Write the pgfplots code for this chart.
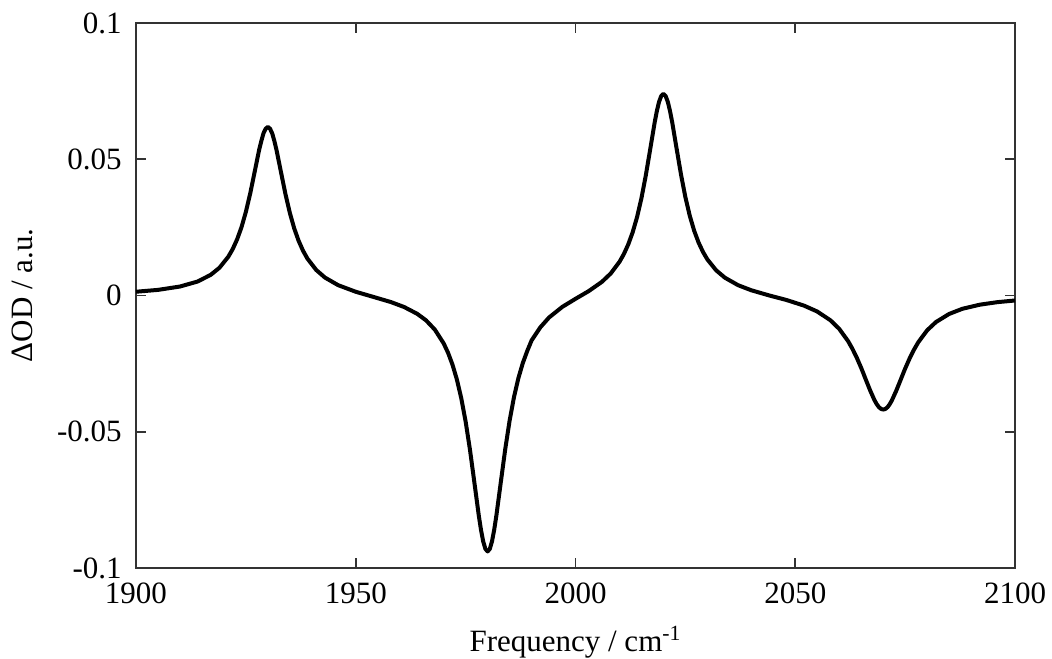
\documentclass[border=0pt]{standalone}
\usepackage{fontspec}
\setmainfont{Liberation Serif}
\usepackage{pgfplots}
\pgfplotsset{compat=1.18}
\begin{document}
\fontsize{15.5}{18}\selectfont
\begin{tikzpicture}
\useasboundingbox (-68pt,-45pt) rectangle (458pt,284pt);
\begin{axis}[
  at={(0,0)}, anchor=south west,
  scale only axis, width=439.5pt, height=272.5pt,
  xmin=1900, xmax=2100, ymin=-0.1, ymax=0.1,
  xtick={1900,1950,2000,2050,2100},
  xticklabels={1900,1950,2000,2050,2100},
  ytick={-0.1,-0.05,0,0.05,0.1},
  yticklabels={-0.1,-0.05,0,0.05,0.1},
  tick align=inside, major tick length=5pt,
  tick style={black!80, line width=0.8pt},
  axis line style={black!80, line width=1pt},
  every tick label/.append style={font=\fontsize{15.5}{18}\selectfont},
  yticklabel style={inner sep=0pt, xshift=-7pt},
  xticklabel style={inner sep=0pt, yshift=-7pt},
  xlabel={Frequency / cm\textsuperscript{-1}},
  ylabel={ΔOD / a.u.},
  xlabel style={at={(axis description cs:0.5,0)}, anchor=base, yshift=-41.5pt, inner sep=0pt},
  ylabel style={at={(axis description cs:0,0.5)}, anchor=base, yshift=51.5pt, inner sep=0pt},
  label style={font=\fontsize{15.5}{18}\selectfont},
  /pgf/number format/assume math mode=true,
  clip=true,
]
\addplot[black, line width=2pt, line join=round] coordinates {
(1900,0.00138) (1905,0.00206) (1910,0.00329) (1914,0.00512) (1917,0.00758) (1919,0.0102)
(1921,0.01422) (1922,0.01703) (1923,0.02057) (1924,0.02505) (1925,0.03069) (1926,0.03754)
(1927,0.04538) (1928,0.0533) (1928.5,0.0566) (1929,0.0595) (1929.5,0.0612) (1930,0.06187)
(1930.5,0.0612) (1931,0.05945) (1931.5,0.0566) (1932,0.05317)
(1933,0.04518) (1934,0.03726) (1935,0.03033) (1936,0.02463) (1937,0.02007) (1938,0.01645)
(1939,0.01355) (1941,0.00938) (1943,0.00657) (1946,0.00379) (1950,0.00137) (1954,-0.00051)
(1958,-0.00241) (1961,-0.00422) (1964,-0.00674) (1966,-0.00913) (1968,-0.01253) (1970,-0.01757)
(1971,-0.02101) (1972,-0.02533) (1973,-0.03077) (1974,-0.03765) (1975,-0.04626) (1976,-0.05674)
(1977,-0.06873) (1978,-0.08082) (1978.5,-0.08605) (1979,-0.09028) (1979.5,-0.0930) (1980,-0.09394)
(1980.5,-0.0930) (1981,-0.09023) (1981.5,-0.08597) (1982,-0.08071)
(1983,-0.06855) (1984,-0.05652) (1985,-0.04598) (1986,-0.0373) (1987,-0.03035) (1988,-0.02483)
(1989,-0.02043) (1990,-0.01652) (1992,-0.01167) (1994,-0.00804) (1997,-0.00417) (2000,-0.00122)
(2003,0.00161) (2006,0.005) (2008,0.00806) (2010,0.01234) (2011,0.0152) (2012,0.01875)
(2013,0.02318) (2014,0.02874) (2015,0.03569) (2016,0.04411) (2017,0.05371) (2018,0.06341)
(2018.5,0.06761) (2019,0.07101) (2019.5,0.07321) (2020,0.07398) (2020.5,0.07324) (2021,0.07108)
(2021.5,0.06772) (2022,0.06357) (2023,0.05395) (2024,0.04442)
(2025,0.03609) (2026,0.02924) (2027,0.02376) (2028,0.01945) (2029,0.016) (2030,0.01325)
(2032,0.00924) (2034,0.00652) (2037,0.00378) (2040,0.00192) (2044,0.00005) (2048,-0.00165)
(2052,-0.00372) (2055,-0.00588) (2058,-0.00909) (2060,-0.01224) (2062,-0.0167) (2063,-0.01955)
(2064,-0.02284) (2065,-0.02657) (2066,-0.03064) (2067,-0.0347) (2068,-0.03833) (2068.5,-0.03978)
(2069,-0.04091) (2069.5,-0.0416) (2070,-0.04186) (2070.5,-0.04165) (2071,-0.04097) (2071.5,-0.03987)
(2072,-0.03843) (2073,-0.03486) (2074,-0.03084) (2075,-0.02684)
(2076,-0.02316) (2077,-0.01992) (2078,-0.01713) (2080,-0.01279) (2082,-0.00976) (2085,-0.00678)
(2088,-0.00489) (2092,-0.00337) (2096,-0.00244) (2100,-0.00183)
};
\end{axis}
\end{tikzpicture}
\end{document}
